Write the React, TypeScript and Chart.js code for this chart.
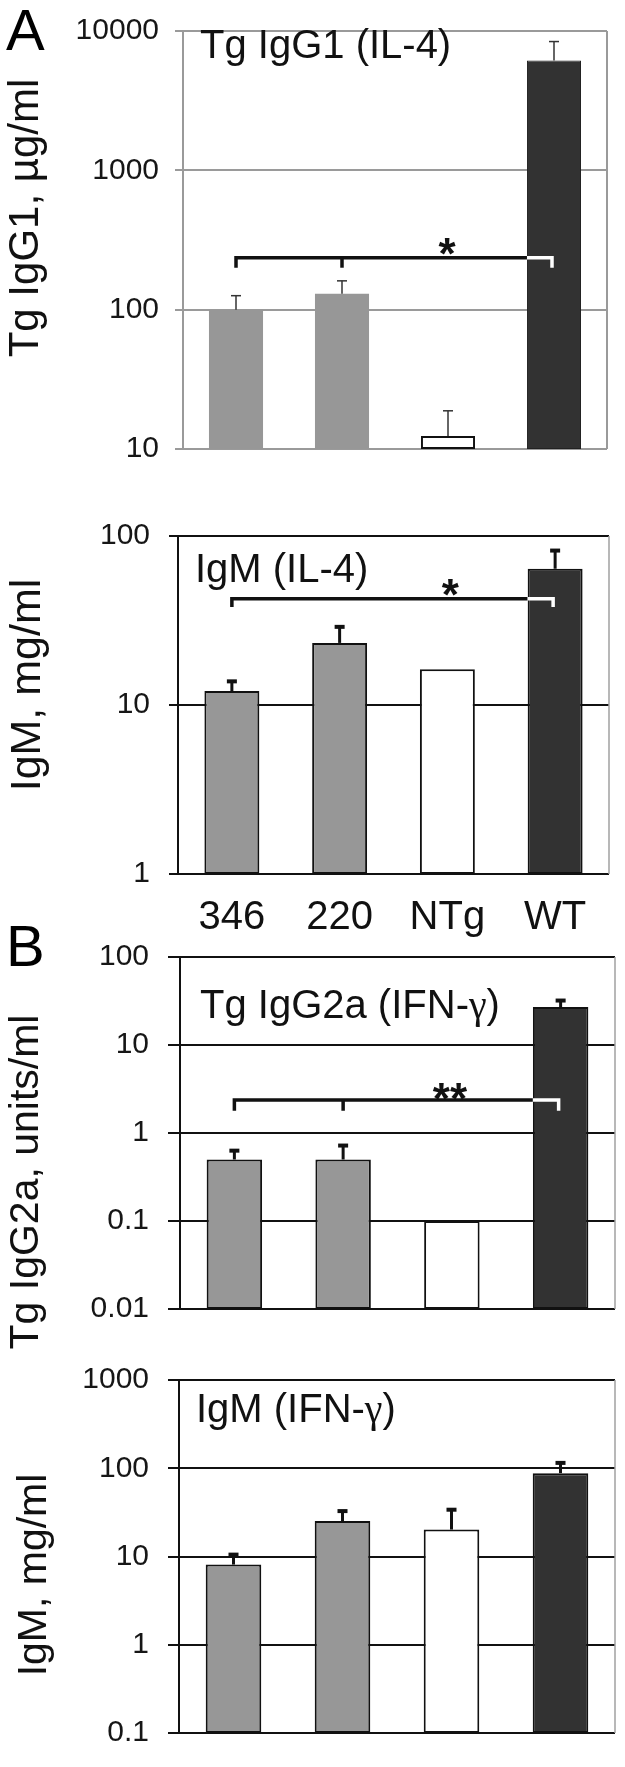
import React, { useEffect, useRef } from 'react';
import { Chart, registerables } from 'chart.js';

Chart.register(...registerables);

// ---------------- data ----------------
const categories = ['346', '220', 'NTg', 'WT'];

const a1Values = [100, 130, 12.4, 6150];
const a1Errors = [26, 31, 6.4, 2250];
const a1Ticks = [10, 100, 1000, 10000];
const a1TickLabels = ['10', '100', '1000', '10000'];

const a2Values = [12.1, 23.3, 16.3, 64];
const a2Errors = [1.7, 5.7, 0, 18];
const a2Ticks = [1, 10, 100];
const a2TickLabels = ['1', '10', '100'];

const b1Values = [0.5, 0.5, 0.1, 27];
const b1Errors = [0.13, 0.22, 0, 5];
const b1Ticks = [0.01, 0.1, 1, 10, 100];
const b1TickLabels = ['0.01', '0.1', '1', '10', '100'];

const b2Values = [8.1, 25.2, 20.2, 88];
const b2Errors = [2.4, 7.5, 13.7, 27];
const b2Ticks = [0.1, 1, 10, 100, 1000];
const b2TickLabels = ['0.1', '1', '10', '100', '1000'];

// significance brackets: level / tick end values, groups compared
const a1Bracket = { level: 236, tickEnd: 200, from: [0, 1], to: 3, mark: '*' };
const a2Bracket = { level: 42.5, tickEnd: 38, from: [0], to: 3, mark: '*' };
const b1Bracket = { level: 2.37, tickEnd: 1.79, from: [0, 1], to: 3, mark: '**' };

// ---------------- styling ----------------
const SANS = '"Liberation Sans", Arial, sans-serif';
const SERIF = '"Liberation Serif", "Times New Roman", serif';
const barFill = ['#979797', '#979797', '#ffffff', '#323232'];

type Part = { t: string; serif?: boolean };

const annotPlugin = {
  id: 'annot',
  afterDatasetsDraw(chart: any, _args: any, opts: any) {
    const ctx = chart.ctx as CanvasRenderingContext2D;
    const ys = chart.scales.y;
    const area = chart.chartArea;
    const meta = chart.getDatasetMeta(0);
    const values: number[] = chart.data.datasets[0].data;
    const errs: number[] = opts.errors || [];
    ctx.save();

    // right frame line
    ctx.strokeStyle = opts.frameColor;
    ctx.lineWidth = opts.frameWidth;
    ctx.beginPath();
    ctx.moveTo(area.right, area.top);
    ctx.lineTo(area.right, area.bottom);
    ctx.stroke();

    // error bars
    meta.data.forEach((el: any, i: number) => {
      const e = errs[i];
      if (!e) return;
      const yTop = ys.getPixelForValue(values[i] + e);
      const yBar = el.y;
      ctx.strokeStyle = opts.errColor;
      ctx.fillStyle = opts.errColor;
      ctx.lineWidth = opts.errStem;
      ctx.beginPath();
      ctx.moveTo(el.x, yBar);
      ctx.lineTo(el.x, yTop);
      ctx.stroke();
      ctx.fillRect(el.x - opts.capHalf, yTop - opts.capThick / 2, opts.capHalf * 2, opts.capThick);
    });

    // bracket
    const br = opts.bracket;
    if (br) {
      const yL = ys.getPixelForValue(br.level);
      const yT = ys.getPixelForValue(br.tickEnd);
      const target = meta.data[br.to];
      const tLeft = target.x - target.width / 2;
      const tEnd = target.x - 2;
      ctx.lineWidth = 3.5;
      ctx.lineCap = 'butt';
      ctx.lineJoin = 'miter';
      ctx.strokeStyle = '#111';
      const first = meta.data[br.from[0]];
      ctx.beginPath();
      ctx.moveTo(first.x, yT);
      ctx.lineTo(first.x, yL);
      ctx.lineTo(tLeft, yL);
      ctx.stroke();
      br.from.slice(1).forEach((idx: number) => {
        const el = meta.data[idx];
        ctx.beginPath();
        ctx.moveTo(el.x, yL);
        ctx.lineTo(el.x, yT);
        ctx.stroke();
      });
      ctx.strokeStyle = '#ffffff';
      ctx.beginPath();
      ctx.moveTo(tLeft, yL);
      ctx.lineTo(tEnd, yL);
      ctx.lineTo(tEnd, yT);
      ctx.stroke();
      // stars
      const sx = meta.data[2].x + (opts.starDx || 0);
      ctx.fillStyle = '#111';
      ctx.font = 'bold 44px ' + SANS;
      ctx.textAlign = 'center';
      ctx.textBaseline = 'alphabetic';
      ctx.fillText(br.mark, sx, yL - (opts.starGap || 6) + 0.42 * 44);
    }

    // in-plot title
    if (opts.title) {
      let x = area.left + opts.titleDx;
      const y = opts.titleBaseline;
      ctx.fillStyle = '#111';
      ctx.textAlign = 'left';
      ctx.textBaseline = 'alphabetic';
      (opts.title as Part[]).forEach((p) => {
        ctx.font = '40px ' + (p.serif ? SERIF : SANS);
        ctx.fillText(p.t, x, y);
        x += ctx.measureText(p.t).width;
      });
    }

    // y-axis title (rotated)
    if (opts.yTitle) {
      ctx.save();
      ctx.translate(opts.yTitleX, opts.yTitleY);
      ctx.rotate(-Math.PI / 2);
      ctx.fillStyle = '#111';
      ctx.textAlign = 'center';
      ctx.textBaseline = 'alphabetic';
      ctx.font = (opts.yTitleSize || 41) + 'px ' + SANS;
      ctx.fillText(opts.yTitle, 0, 0);
      ctx.restore();
    }

    // panel letter
    if (opts.letter) {
      ctx.fillStyle = '#000';
      ctx.textAlign = 'left';
      ctx.textBaseline = 'alphabetic';
      ctx.font = '58px ' + SANS;
      ctx.fillText(opts.letter, opts.letterX, opts.letterY);
    }
    ctx.restore();
  },
};

type PanelCfg = {
  top: number;
  height: number;
  padTop: number;
  padRight: number;
  padBottom: number;
  xHeight: number;
  showX: boolean;
  yWidth: number;
  values: number[];
  errors: number[];
  ticks: number[];
  tickLabels: string[];
  gridColor: string;
  tickLength: number;
  tickPadding: number;
  borderWidths: number[];
  borderColors: string[];
  annot: any;
};

function makeConfig(c: PanelCfg): any {
  return {
    type: 'bar',
    data: {
      labels: categories,
      datasets: [
        {
          data: c.values,
          backgroundColor: barFill,
          borderColor: c.borderColors,
          borderWidth: c.borderWidths,
          borderSkipped: false,
          barPercentage: 0.51,
          categoryPercentage: 1,
        },
      ],
    },
    plugins: [annotPlugin],
    options: {
      responsive: false,
      maintainAspectRatio: false,
      animation: false,
      devicePixelRatio: 1,
      layout: { padding: { left: 0, top: c.padTop, right: c.padRight, bottom: c.padBottom } },
      plugins: {
        legend: { display: false },
        tooltip: { enabled: false },
        annot: { ...c.annot, errors: c.errors },
      },
      scales: {
        x: {
          display: c.showX,
          grid: { display: false, drawTicks: false },
          border: { display: false },
          ticks: {
            font: { family: SANS, size: 40 },
            color: '#111',
            padding: 20,
            maxRotation: 0,
            autoSkip: false,
          },
          afterFit: (s: any) => {
            s.height = c.xHeight;
          },
        },
        y: {
          type: 'logarithmic',
          min: c.ticks[0],
          max: c.ticks[c.ticks.length - 1],
          afterBuildTicks: (s: any) => {
            s.ticks = c.ticks.map((v) => ({ value: v }));
          },
          ticks: {
            callback: (_v: any, i: number) => c.tickLabels[i],
            font: { family: SANS, size: 30, lineHeight: 1.0 },
            color: '#161616',
            padding: c.tickPadding,
          },
          grid: { color: c.gridColor, lineWidth: 2, tickLength: c.tickLength, drawTicks: true },
          border: { color: c.gridColor, width: 2 },
          afterFit: (s: any) => {
            s.width = c.yWidth;
          },
        },
      },
    },
  };
}

const panels: PanelCfg[] = [
  {
    top: 0,
    height: 480,
    padTop: 21,
    padRight: 18,
    padBottom: 9,
    xHeight: 0,
    showX: false,
    yWidth: 183,
    values: a1Values,
    errors: a1Errors,
    ticks: a1Ticks,
    tickLabels: a1TickLabels,
    gridColor: '#9a9a9a',
    tickLength: 8,
    tickPadding: 16,
    borderWidths: [0, 0, 2, 1],
    borderColors: ['#979797', '#979797', '#111111', '#222222'],
    annot: {
      frameColor: '#9a9a9a',
      frameWidth: 2,
      errColor: '#333',
      errStem: 1.5,
      capHalf: 5,
      capThick: 1.5,
      bracket: a1Bracket,
      starDx: -1,
      starGap: 7,
      title: [{ t: 'Tg IgG1 (IL-4)' }],
      titleDx: 17,
      titleBaseline: 58,
      yTitle: 'Tg IgG1, \u00b5g/ml',
      yTitleSize: 42,
      yTitleX: 38,
      yTitleY: 218,
      letter: 'A',
      letterX: 6,
      letterY: 50,
    },
  },
  {
    top: 480,
    height: 460,
    padTop: 56,
    padRight: 16,
    padBottom: 0,
    xHeight: 66,
    showX: true,
    yWidth: 178,
    values: a2Values,
    errors: a2Errors,
    ticks: a2Ticks,
    tickLabels: a2TickLabels,
    gridColor: '#111',
    tickLength: 9,
    tickPadding: 19,
    borderWidths: [2, 2, 2, 2],
    borderColors: ['#111', '#111', '#111', '#111'],
    annot: {
      frameColor: '#a0a0a0',
      frameWidth: 1.5,
      errColor: '#111',
      errStem: 3,
      capHalf: 5,
      capThick: 4,
      bracket: a2Bracket,
      starDx: 3,
      starGap: 7,
      title: [{ t: 'IgM (IL-4)' }],
      titleDx: 17,
      titleBaseline: 102,
      yTitle: 'IgM, mg/ml',
      yTitleSize: 43,
      yTitleX: 40,
      yTitleY: 205,
    },
  },
  {
    top: 900,
    height: 480,
    padTop: 57,
    padRight: 10,
    padBottom: 71,
    xHeight: 0,
    showX: false,
    yWidth: 180,
    values: b1Values,
    errors: b1Errors,
    ticks: b1Ticks,
    tickLabels: b1TickLabels,
    gridColor: '#111',
    tickLength: 12,
    tickPadding: 19,
    borderWidths: [2, 2, 2, 2],
    borderColors: ['#111', '#111', '#111', '#111'],
    annot: {
      frameColor: '#a0a0a0',
      frameWidth: 1.5,
      errColor: '#111',
      errStem: 3,
      capHalf: 5,
      capThick: 4,
      bracket: b1Bracket,
      starDx: -2,
      starGap: 5,
      title: [{ t: 'Tg IgG2a (IFN-' }, { t: '\u03b3', serif: true }, { t: ')' }],
      titleDx: 20,
      titleBaseline: 118,
      yTitle: 'Tg IgG2a, units/ml',
      yTitleSize: 41,
      yTitleX: 38,
      yTitleY: 282,
      letter: 'B',
      letterX: 6,
      letterY: 66,
    },
  },
  {
    top: 1340,
    height: 427,
    padTop: 40,
    padRight: 10,
    padBottom: 20,
    xHeight: 0,
    showX: false,
    yWidth: 179,
    values: b2Values,
    errors: b2Errors,
    ticks: b2Ticks,
    tickLabels: b2TickLabels,
    gridColor: '#111',
    tickLength: 11,
    tickPadding: 19,
    borderWidths: [2, 2, 2, 2],
    borderColors: ['#111', '#111', '#111', '#111'],
    annot: {
      frameColor: '#a0a0a0',
      frameWidth: 1.5,
      errColor: '#111',
      errStem: 3,
      capHalf: 5,
      capThick: 4,
      title: [{ t: 'IgM (IFN-' }, { t: '\u03b3', serif: true }, { t: ')' }],
      titleDx: 17,
      titleBaseline: 82,
      yTitle: 'IgM, mg/ml',
      yTitleSize: 41,
      yTitleX: 46,
      yTitleY: 235,
    },
  },
];

function Panel({ cfg }: { cfg: PanelCfg }) {
  const ref = useRef<HTMLCanvasElement>(null);
  useEffect(() => {
    const chart = new Chart(ref.current as HTMLCanvasElement, makeConfig(cfg));
    return () => chart.destroy();
  }, [cfg]);
  return (
    <canvas
      ref={ref}
      width={625}
      height={cfg.height}
      style={{ position: 'absolute', left: 0, top: cfg.top, width: 625, height: cfg.height }}
    />
  );
}

export default function App() {
  return (
    <div style={{ position: 'absolute', left: 0, top: 0, width: 625, height: 1767, background: '#fff' }}>
      {panels.map((p, i) => (
        <Panel key={i} cfg={p} />
      ))}
    </div>
  );
}
